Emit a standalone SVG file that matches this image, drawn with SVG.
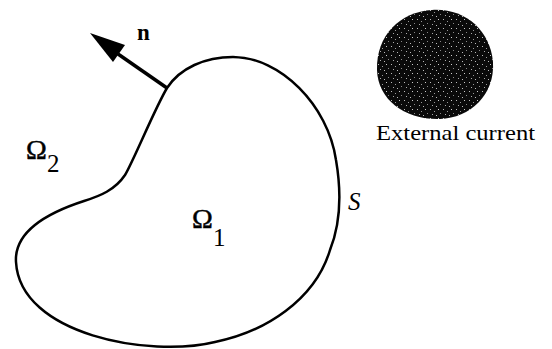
<svg xmlns="http://www.w3.org/2000/svg" width="552" height="349" viewBox="0 0 552 349">
<defs>
<pattern id="stip" width="13" height="9" patternUnits="userSpaceOnUse">
<rect width="13" height="9" fill="#0a0a0a"/>
<rect x="1" y="1" width="1" height="1" fill="#bbb"/>
<rect x="5" y="3" width="1" height="1" fill="#999"/>
<rect x="9" y="1" width="1" height="1" fill="#ccc"/>
<rect x="3" y="6" width="1" height="1" fill="#aaa"/>
<rect x="11" y="5" width="1" height="1" fill="#888"/>
<rect x="7" y="7" width="1" height="1" fill="#bbb"/>
</pattern>
</defs>
<style>
.curve{fill:none;stroke:#000;stroke-width:2.5;stroke-linejoin:round}
.lbl{font-family:"Liberation Serif","Times New Roman",serif;fill:#000}
.om{font-size:28px;stroke:#000;stroke-width:0.5px}
.sub{font-size:25px}
</style>
<rect width="552" height="349" fill="#fff"/>
<g id="region-omega1">
<path class="curve" d="M167 88 C180 68,205 57,233 57 C280 57,328 105,336 160 C342 195,340 225,330 250 C315 300,265 332,215 342 C150 358,20 335,16 262 C14 230,50 212,84 201 C100 196,115 190,125 175 C133 162,155 108,167 88 Z"/>
<text class="lbl om" x="192" y="228">Ω</text>
<text class="lbl sub" x="213" y="246">1</text>
</g>
<g id="label-S">
<text class="lbl" x="348" y="210" font-size="25" font-style="italic">S</text>
</g>
<g id="region-omega2">
<text class="lbl om" x="26" y="159">Ω</text>
<text class="lbl sub" x="47" y="172">2</text>
</g>
<g id="external-current">
<path d="M432 10 C465 8,490 30,493 62 C495 95,470 118,440 119 C405 120,378 100,377 70 C376 35,400 12,432 10 Z" fill="url(#stip)"/>
<text class="lbl" x="376" y="140" font-size="21" textLength="159" lengthAdjust="spacingAndGlyphs">External current</text>
</g>
<g id="connectors">
<line x1="167" y1="88" x2="118" y2="54" stroke="#000" stroke-width="3.5"/>
<polygon points="90,33 113,62 125,45" fill="#000"/>
<text class="lbl" x="137" y="40" font-size="23" font-weight="bold">n</text>
</g>
</svg>
